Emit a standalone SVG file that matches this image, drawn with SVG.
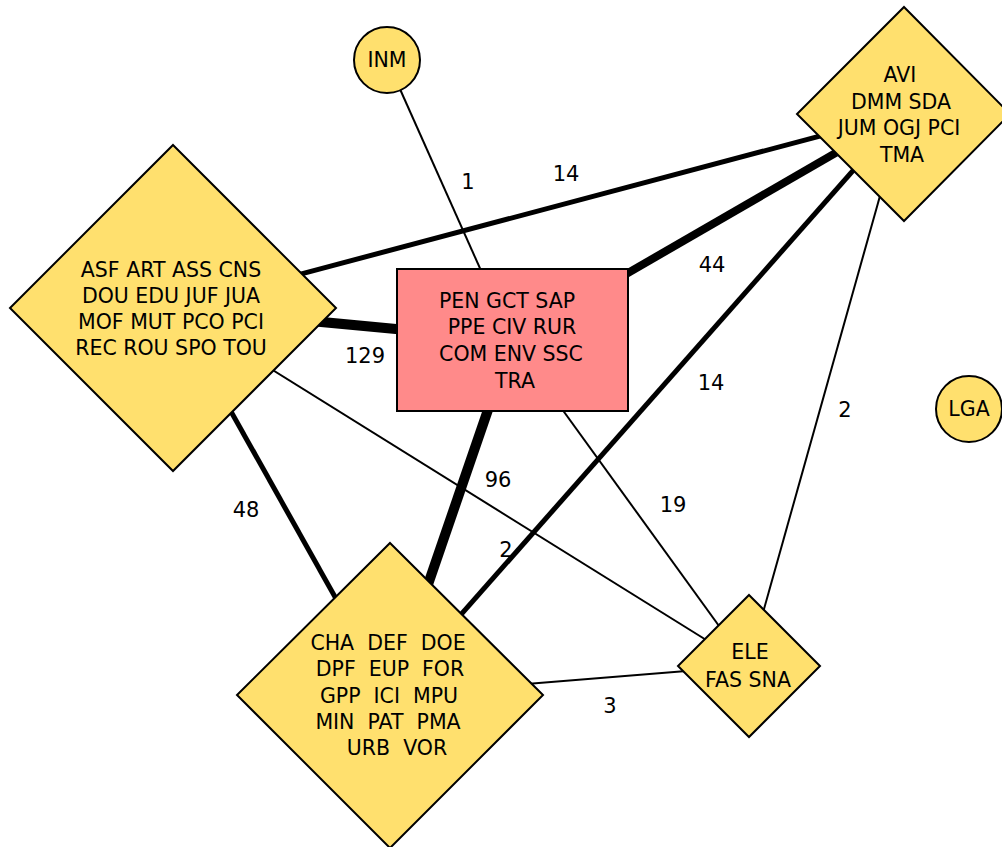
<svg xmlns="http://www.w3.org/2000/svg" width="1002" height="847" viewBox="0 0 1002 847">
<style>
.n{fill:#FFE06E;stroke:#000;stroke-width:2}
.r{fill:#FF8A8A;stroke:#000;stroke-width:2}
text{font-family:"DejaVu Sans",Verdana,sans-serif;font-size:20.5px;fill:#000;text-anchor:middle}
.l{font-size:21px}
.e{stroke:#000;stroke-linecap:butt;fill:none}
</style>
<rect width="1002" height="847" fill="#fff"/>
<g id="connectors">
<line class="e" x1="387" y1="60" x2="512" y2="340" stroke-width="2"/>
<line class="e" x1="173" y1="308" x2="903" y2="114" stroke-width="5"/>
<line class="e" x1="512" y1="340" x2="903" y2="114" stroke-width="8"/>
<line class="e" x1="390" y1="695" x2="903" y2="114" stroke-width="5"/>
<line class="e" x1="748" y1="666" x2="903" y2="114" stroke-width="2"/>
<line class="e" x1="173" y1="308" x2="512" y2="340" stroke-width="10"/>
<line class="e" x1="512" y1="340" x2="390" y2="695" stroke-width="10"/>
<line class="e" x1="512" y1="340" x2="748" y2="666" stroke-width="2"/>
<line class="e" x1="173" y1="308" x2="390" y2="695" stroke-width="5"/>
<line class="e" x1="173" y1="308" x2="748" y2="666" stroke-width="2"/>
<line class="e" x1="390" y1="695" x2="748" y2="666" stroke-width="2"/>
<text class="l" x="468" y="189">1</text>
<text class="l" x="566" y="181">14</text>
<text class="l" x="712" y="272">44</text>
<text class="l" x="711" y="390">14</text>
<text class="l" x="845" y="417">2</text>
<text class="l" x="365" y="363">129</text>
<text class="l" x="498" y="487">96</text>
<text class="l" x="673" y="512">19</text>
<text class="l" x="246" y="517">48</text>
<text class="l" x="506" y="557">2</text>
<text class="l" x="610" y="713">3</text>
</g>
<g id="INM">
<circle class="n" cx="387" cy="60" r="33"/>
<text x="387" y="67">INM</text>
</g>
<g id="LGA">
<circle class="n" cx="969" cy="409" r="33"/>
<text x="969" y="416">LGA</text>
</g>
<g id="AVI">
<polygon class="n" points="904,7 1010,114 904,221 797,114"/>
<text x="900" y="82">AVI</text>
<text x="901" y="109">DMM SDA</text>
<text x="899" y="135">JUM OGJ PCI</text>
<text x="902" y="162">TMA</text>
</g>
<g id="ASF">
<polygon class="n" points="173,145 336,308 173,471 10,308"/>
<text x="171" y="277">ASF ART ASS CNS</text>
<text x="171" y="303">DOU EDU JUF JUA</text>
<text x="171" y="329">MOF MUT PCO PCI</text>
<text x="171" y="355">REC ROU SPO TOU</text>
</g>
<g id="PEN">
<rect class="r" x="397" y="269" width="231" height="142"/>
<text x="507" y="308">PEN GCT SAP</text>
<text x="512" y="334">PPE CIV RUR</text>
<text x="511" y="361">COM ENV SSC</text>
<text x="515" y="388">TRA</text>
</g>
<g id="CHA">
<polygon class="n" points="390,543 543,695 390,848 237,695"/>
<text x="388" y="650" xml:space="preserve">CHA  DEF  DOE</text>
<text x="390" y="676" xml:space="preserve">DPF  EUP  FOR</text>
<text x="389" y="703" xml:space="preserve">GPP  ICI  MPU</text>
<text x="388" y="729" xml:space="preserve">MIN  PAT  PMA</text>
<text x="397" y="755" xml:space="preserve">URB  VOR</text>
</g>
<g id="ELE">
<polygon class="n" points="749,595 820,666 749,737 678,666"/>
<text x="750" y="659">ELE</text>
<text x="748" y="687">FAS SNA</text>
</g>
</svg>
